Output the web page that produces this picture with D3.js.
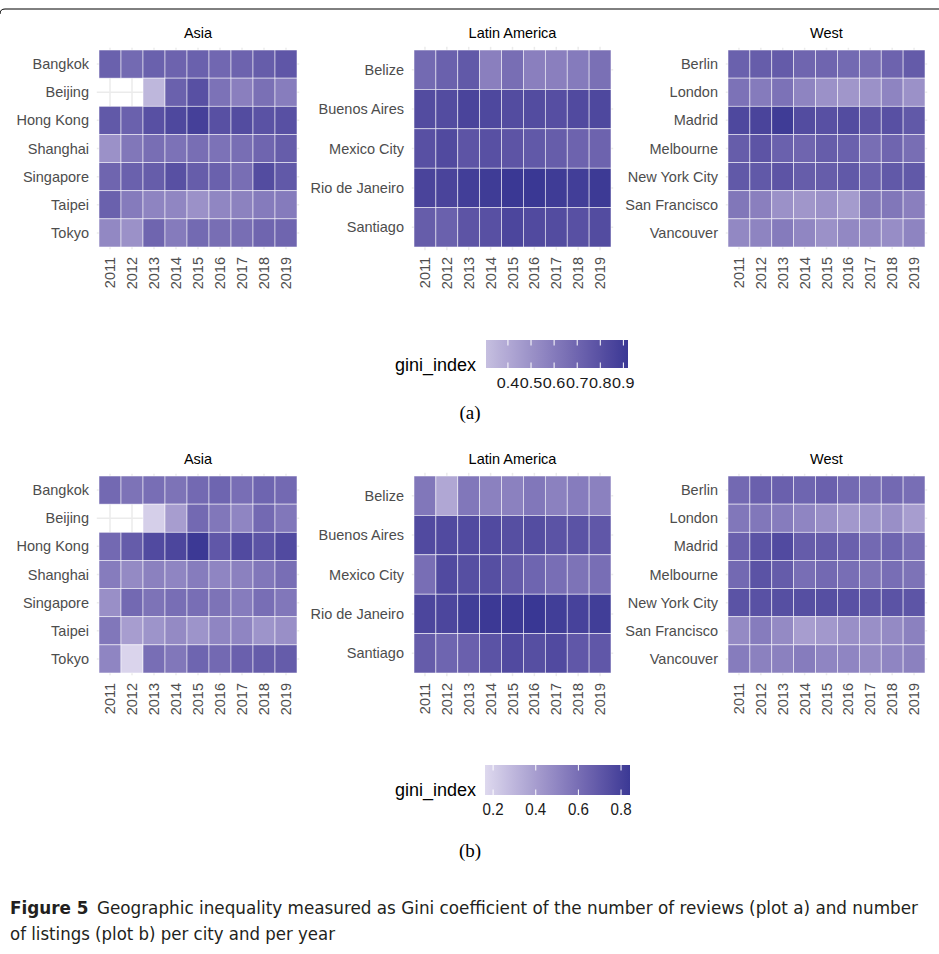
<!DOCTYPE html>
<html>
<head>
<meta charset="utf-8">
<script src="https://cdn.jsdelivr.net/npm/d3@7"></script>
<style>
  body { margin: 0; background: #fff; }
  svg { display: block; }
</style>
</head>
<body>
<div id="chart"></div>
<script>
// years on x, cities on y, one row of values per city
const years = [2011, 2012, 2013, 2014, 2015, 2016, 2017, 2018, 2019];

const asiaCities = ['Bangkok', 'Beijing', 'Hong Kong', 'Shanghai', 'Singapore', 'Taipei', 'Tokyo'];
const latamCities = ['Belize', 'Buenos Aires', 'Mexico City', 'Rio de Janeiro', 'Santiago'];
const westCities = ['Berlin', 'London', 'Madrid', 'Melbourne', 'New York City', 'San Francisco', 'Vancouver'];

// plot (a): gini of number of reviews
const reviewsAsia = [
    [0.72, 0.68, 0.72, 0.71, 0.72, 0.69, 0.71, 0.74, 0.77],
    [null, null, 0.34, 0.72, 0.80, 0.64, 0.58, 0.65, 0.59],
    [0.76, 0.72, 0.80, 0.84, 0.88, 0.80, 0.82, 0.79, 0.80],
    [0.50, 0.62, 0.66, 0.64, 0.66, 0.64, 0.66, 0.70, 0.74],
    [0.70, 0.72, 0.74, 0.80, 0.74, 0.72, 0.66, 0.82, 0.76],
    [0.72, 0.60, 0.56, 0.55, 0.50, 0.55, 0.57, 0.60, 0.60],
    [0.54, 0.50, 0.70, 0.60, 0.68, 0.66, 0.66, 0.70, 0.70]
];
const reviewsLatam = [
    [0.68, 0.72, 0.76, 0.58, 0.66, 0.58, 0.58, 0.60, 0.65],
    [0.82, 0.82, 0.86, 0.84, 0.82, 0.82, 0.81, 0.83, 0.84],
    [0.80, 0.83, 0.78, 0.80, 0.78, 0.76, 0.74, 0.71, 0.71],
    [0.86, 0.86, 0.89, 0.90, 0.92, 0.92, 0.90, 0.89, 0.91],
    [0.74, 0.72, 0.78, 0.80, 0.85, 0.83, 0.82, 0.80, 0.82]
];
const reviewsWest = [
    [0.72, 0.74, 0.75, 0.70, 0.70, 0.68, 0.66, 0.71, 0.75],
    [0.64, 0.60, 0.64, 0.56, 0.50, 0.48, 0.50, 0.56, 0.50],
    [0.84, 0.86, 0.90, 0.82, 0.80, 0.82, 0.78, 0.80, 0.76],
    [0.74, 0.78, 0.72, 0.70, 0.74, 0.72, 0.66, 0.70, 0.66],
    [0.76, 0.76, 0.78, 0.74, 0.74, 0.76, 0.72, 0.76, 0.76],
    [0.62, 0.58, 0.50, 0.48, 0.50, 0.46, 0.62, 0.62, 0.58],
    [0.54, 0.56, 0.60, 0.55, 0.50, 0.54, 0.54, 0.52, 0.56]
];

// plot (b): gini of number of listings
const listingsAsia = [
    [0.62, 0.58, 0.60, 0.58, 0.62, 0.64, 0.60, 0.64, 0.62],
    [null, null, 0.20, 0.40, 0.62, 0.56, 0.50, 0.62, 0.56],
    [0.62, 0.68, 0.76, 0.78, 0.84, 0.70, 0.76, 0.72, 0.76],
    [0.54, 0.48, 0.52, 0.50, 0.54, 0.50, 0.52, 0.56, 0.60],
    [0.46, 0.62, 0.58, 0.60, 0.60, 0.58, 0.54, 0.60, 0.56],
    [0.56, 0.40, 0.44, 0.48, 0.44, 0.50, 0.50, 0.44, 0.46],
    [0.50, 0.18, 0.60, 0.56, 0.64, 0.62, 0.66, 0.68, 0.68]
];
const listingsLatam = [
    [0.56, 0.36, 0.56, 0.52, 0.52, 0.56, 0.52, 0.54, 0.52],
    [0.76, 0.76, 0.76, 0.76, 0.74, 0.75, 0.72, 0.72, 0.70],
    [0.60, 0.76, 0.74, 0.74, 0.68, 0.64, 0.60, 0.58, 0.60],
    [0.78, 0.78, 0.82, 0.84, 0.84, 0.85, 0.82, 0.80, 0.82],
    [0.68, 0.64, 0.66, 0.72, 0.76, 0.74, 0.76, 0.70, 0.70]
];
const listingsWest = [
    [0.62, 0.66, 0.66, 0.64, 0.66, 0.62, 0.60, 0.62, 0.60],
    [0.56, 0.56, 0.54, 0.50, 0.46, 0.42, 0.44, 0.46, 0.40],
    [0.66, 0.72, 0.76, 0.68, 0.68, 0.66, 0.62, 0.64, 0.60],
    [0.62, 0.72, 0.68, 0.60, 0.62, 0.60, 0.58, 0.60, 0.58],
    [0.72, 0.73, 0.74, 0.74, 0.74, 0.73, 0.71, 0.72, 0.71],
    [0.48, 0.54, 0.48, 0.40, 0.42, 0.46, 0.46, 0.48, 0.52],
    [0.54, 0.52, 0.52, 0.54, 0.50, 0.50, 0.48, 0.50, 0.52]
];

const reviewsTicks = [0.4, 0.5, 0.6, 0.7, 0.8, 0.9];
const listingsTicks = [0.2, 0.4, 0.6, 0.8];

const W = 939, H = 954;
const sans = "'Liberation Sans', Arial, sans-serif";

const svg = d3.select('#chart').append('svg')
    .attr('width', W)
    .attr('height', H);

// thin rule across the top of the page
svg.append('path')
    .attr('d', 'M0,14 Q0,9 5,9 L939,9')
    .attr('fill', 'none')
    .attr('stroke', '#000')
    .attr('stroke-width', 1);

const defs = svg.append('defs');

// panel tile extents (x) for the three facets
const facetX = [[99, 297], [414, 611], [728, 925]];

function drawHeatmap(top, title, cities, values, color, xr) {
    const g = svg.append('g');
    const x = d3.scaleBand().domain(years).range(xr).padding(0);
    const y = d3.scaleBand().domain(cities).range([top, top + 197]).padding(0);
    const ext = 0.1;

    // background grid (theme_minimal)
    const grid = g.append('g');
    grid.selectAll('.vg')
        .data(years)
        .enter()
        .append('line')
        .attr('x1', d => x(d) + x.bandwidth() / 2)
        .attr('x2', d => x(d) + x.bandwidth() / 2)
        .attr('y1', top - ext * y.bandwidth() * 0.8)
        .attr('y2', top + 197 + ext * y.bandwidth() * 0.8)
        .attr('stroke', '#ebebeb')
        .attr('stroke-width', 1.5);
    grid.selectAll('.hg')
        .data(cities)
        .enter()
        .append('line')
        .attr('x1', xr[0] - ext * x.bandwidth())
        .attr('x2', xr[1] + ext * x.bandwidth())
        .attr('y1', d => y(d) + y.bandwidth() / 2)
        .attr('y2', d => y(d) + y.bandwidth() / 2)
        .attr('stroke', '#ebebeb')
        .attr('stroke-width', 1.5);

    const cells = [];
    cities.forEach((c, i) => {
        years.forEach((yr, j) => {
            if (values[i][j] !== null) cells.push({ city: c, year: yr, v: values[i][j] });
        });
    });

    g.selectAll('.tile')
        .data(cells)
        .enter()
        .append('rect')
        .attr('class', 'tile')
        .attr('x', d => x(d.year))
        .attr('y', d => y(d.city))
        .attr('width', x.bandwidth())
        .attr('height', y.bandwidth())
        .attr('fill', d => color(d.v))
        .attr('stroke', 'rgba(255,255,255,0.75)')
        .attr('stroke-width', 0.7);

    // facet title
    g.append('text')
        .attr('x', (xr[0] + xr[1]) / 2)
        .attr('y', top - 12)
        .attr('text-anchor', 'middle')
        .attr('font-family', sans)
        .attr('font-size', 14.5)
        .attr('fill', '#000')
        .text(title);

    // city labels
    g.selectAll('.ylab')
        .data(cities)
        .enter()
        .append('text')
        .attr('x', xr[0] - 10)
        .attr('y', d => y(d) + y.bandwidth() / 2)
        .attr('dy', '0.35em')
        .attr('text-anchor', 'end')
        .attr('font-family', sans)
        .attr('font-size', 14.5)
        .attr('fill', '#4d4d4d')
        .text(d => d);

    // rotated year labels
    g.selectAll('.xlab')
        .data(years)
        .enter()
        .append('text')
        .attr('transform', d => `translate(${x(d) + x.bandwidth() / 2},${top + 207}) rotate(-90)`)
        .attr('dy', '0.35em')
        .attr('text-anchor', 'end')
        .attr('font-family', sans)
        .attr('font-size', 14.5)
        .attr('fill', '#4d4d4d')
        .text(d => d);
}

function drawLegend(id, top, color, ticks, bx, bw, bh, labSize, labWidth) {
    const dom = color.domain();
    const lx = d3.scaleLinear().domain(dom).range([bx, bx + bw]);

    const grad = defs.append('linearGradient').attr('id', id);
    d3.range(0, 1.0001, 0.05).forEach(t => {
        grad.append('stop')
            .attr('offset', t)
            .attr('stop-color', color(dom[0] + t * (dom[1] - dom[0])));
    });

    const g = svg.append('g');
    g.append('rect')
        .attr('x', bx).attr('y', top)
        .attr('width', bw).attr('height', bh)
        .attr('fill', `url(#${id})`);

    g.selectAll('.tk1')
        .data(ticks)
        .enter()
        .append('line')
        .attr('x1', d => lx(d)).attr('x2', d => lx(d))
        .attr('y1', top).attr('y2', top + 5.5)
        .attr('stroke', '#fff').attr('stroke-width', 1);
    g.selectAll('.tk2')
        .data(ticks)
        .enter()
        .append('line')
        .attr('x1', d => lx(d)).attr('x2', d => lx(d))
        .attr('y1', top + bh - 5.5).attr('y2', top + bh)
        .attr('stroke', '#fff').attr('stroke-width', 1);

    g.selectAll('.tl')
        .data(ticks)
        .enter()
        .append('text')
        .attr('x', d => lx(d) - labWidth / 2)
        .attr('y', top + bh + 20)
        .attr('font-family', sans)
        .attr('font-size', labSize)
        .attr('fill', '#1a1a1a')
        .attr('textLength', labWidth)
        .attr('lengthAdjust', 'spacingAndGlyphs')
        .text(d => d.toFixed(1));

    g.append('text')
        .attr('x', 395)
        .attr('y', top + 31)
        .attr('font-family', sans)
        .attr('font-size', 18)
        .attr('fill', '#000')
        .text('gini_index');
}

const colorA = d3.scaleLinear()
    .domain([0.305, 0.92])
    .range(['#c6bfe0', '#3a3894'])
    .interpolate(d3.interpolateLab);
const colorB = d3.scaleLinear()
    .domain([0.162, 0.842])
    .range(['#ded9ee', '#3b3995'])
    .interpolate(d3.interpolateLab);

// plot (a)
drawHeatmap(50, 'Asia', asiaCities, reviewsAsia, colorA, facetX[0]);
drawHeatmap(50, 'Latin America', latamCities, reviewsLatam, colorA, facetX[1]);
drawHeatmap(50, 'West', westCities, reviewsWest, colorA, facetX[2]);
drawLegend('gradA', 340, colorA, reviewsTicks, 486, 142, 28, 15, 22.5);

// plot (b)
drawHeatmap(476, 'Asia', asiaCities, listingsAsia, colorB, facetX[0]);
drawHeatmap(476, 'Latin America', latamCities, listingsLatam, colorB, facetX[1]);
drawHeatmap(476, 'West', westCities, listingsWest, colorB, facetX[2]);
drawLegend('gradB', 765, colorB, listingsTicks, 485, 145, 30, 16.5, 21);

svg.append('text')
    .attr('x', 470).attr('y', 419)
    .attr('text-anchor', 'middle')
    .attr('font-family', "'Liberation Serif', serif")
    .attr('font-size', 19)
    .text('(a)');
svg.append('text')
    .attr('x', 470).attr('y', 857)
    .attr('text-anchor', 'middle')
    .attr('font-family', "'Liberation Serif', serif")
    .attr('font-size', 19)
    .text('(b)');

// caption
const cap = svg.append('g')
    .attr('font-family', "'Liberation Sans Narrow', 'DejaVu Sans Condensed', sans-serif")
    .attr('font-size', 18)
    .attr('fill', '#231f20');
const line1 = cap.append('text')
    .attr('x', 10).attr('y', 914)
    .attr('textLength', 908)
    .attr('lengthAdjust', 'spacingAndGlyphs');
line1.append('tspan').attr('font-weight', 'bold').text('Figure 5');
line1.append('tspan').text('\u2002Geographic inequality measured as Gini coefficient of the number of reviews (plot a) and number');
cap.append('text')
    .attr('x', 10).attr('y', 940)
    .attr('textLength', 325)
    .attr('lengthAdjust', 'spacingAndGlyphs')
    .text('of listings (plot b) per city and per year');
</script>
</body>
</html>
